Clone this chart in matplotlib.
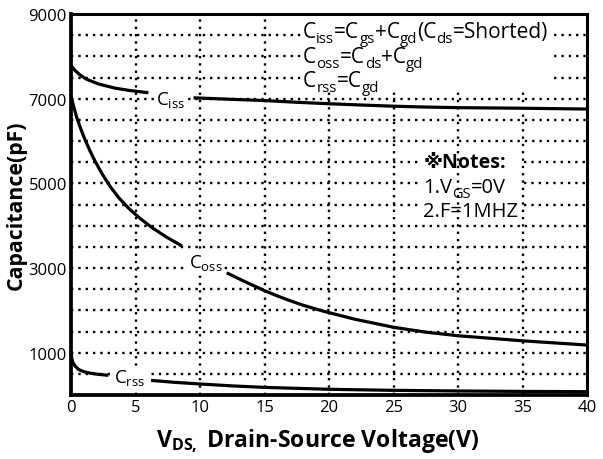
import matplotlib
matplotlib.use("Agg")
import matplotlib.pyplot as plt
from matplotlib.transforms import offset_copy
import numpy as np

plt.rcParams['font.family'] = ['Open Sans', 'DejaVu Sans']
plt.rcParams['mathtext.fontset'] = 'custom'
plt.rcParams['mathtext.rm'] = 'Open Sans'
plt.rcParams['mathtext.it'] = 'Open Sans'
plt.rcParams['mathtext.bf'] = 'Open Sans:bold'

nan = float('nan')
# Data (nan = gap where the curve label sits)
ciss_v = [0, 0.1, 0.3, 0.7, 1.2, 2.1, 3.4, 4.5, 6.0, nan, 9.5, 12, 15, 17.5, 20, 22.5, 25, 27.5, 30, 35, 40]
ciss_c = [7790, 7745, 7670, 7560, 7460, 7350, 7250, 7195, 7140, nan, 7020, 6990, 6955, 6915, 6880, 6850, 6822, 6802, 6788, 6774, 6755]

coss_v = [0, 0.15, 0.44, 0.8, 1.13, 1.5, 1.85, 2.4, 3.0, 3.7, 4.5, 5.4, 6.3, 7.4, 8.6, nan,
          12.07, 13.5, 15, 16, 17, 18, 19.5, 22, 25, 27.5, 30, 35, 40]
coss_c = [7080, 6880, 6560, 6250, 6000, 5750, 5530, 5230, 4940, 4660, 4400, 4160, 3950, 3730, 3520, nan,
          2885, 2675, 2465, 2340, 2225, 2120, 1985, 1790, 1600, 1485, 1400, 1280, 1180]

crss_v = [0, 0.05, 0.15, 0.3, 0.6, 1.0, 1.5, 2.2, 2.9, nan, 6.2, 8, 10, 12.5, 15, 20, 25, 30, 35, 40]
crss_c = [1000, 880, 770, 690, 600, 550, 515, 485, 465, nan, 345, 300, 260, 215, 180, 135, 110, 95, 85, 78]

x_ticks = [0, 5, 10, 15, 20, 25, 30, 35, 40]
y_ticks = [1000, 3000, 5000, 7000, 9000]

W, H = 603, 460
fig = plt.figure(figsize=(W/100, H/100), dpi=100)
ax = fig.add_axes([71/W, 1-396/H, 516/W, 381/H])
ax.set_xlim(0, 40)
ax.set_ylim(0, 9000)
r = fig.canvas.get_renderer()

# dotted grid (horizontal lines behind the notes are interrupted like the reference)
dot = (0, (1, 2.1))
gkw = dict(color='black', lw=1.7, ls=dot, zorder=1)
for gx in x_ticks[1:-1]:
    ax.axvline(gx, **gkw)
for gy in np.arange(500, 9000, 500):
    if gy in (4500, 5000, 5500):
        ax.plot([0, 27.2], [gy, gy], **gkw)
        ax.plot([35.1, 40], [gy, gy], **gkw)
    else:
        ax.axhline(gy, **gkw)

for xs, ys in [(ciss_v, ciss_c), (coss_v, coss_c), (crss_v, crss_c)]:
    ax.plot(xs, ys, color='black', lw=2.3, zorder=3, solid_capstyle='butt')

wb = dict(facecolor='white', edgecolor='none', pad=1.0)
ax.text(7.7, 6875, r'$\mathregular{C_{iss}}$', fontsize=13.5, ha='center', va='baseline', bbox=wb, zorder=5)
ax.text(10.45, 3017, r'$\mathregular{C_{oss}}$', fontsize=13.5, ha='center', va='baseline', bbox=wb, zorder=5)
ax.text(4.57, 300, r'$\mathregular{C_{rss}}$', fontsize=13.5, ha='center', va='baseline', bbox=wb, zorder=5)

# white area hiding grid behind the formula block
ax.add_patch(plt.Rectangle((17.9, 7200), 19.45, 1795, facecolor='white', edgecolor='none', zorder=4))


def rich(x, y, pieces, size, weight='normal'):
    """Draw a sequence of (text, is_subscript) pieces left to right."""
    texts, xoff = [], 0.0
    for s, sub in pieces:
        fs = size * 0.72 if sub else size
        dy = -size * 0.26 if sub else 0.0
        tr = offset_copy(ax.transData, fig=fig, x=xoff, y=dy, units='points')
        t = ax.text(x, y, s, fontsize=fs, fontweight=weight, transform=tr,
                    ha='left', va='baseline', zorder=5)
        texts.append(t)
        xoff += t.get_window_extent(r).width * 72.0 / fig.dpi
    return texts, xoff * fig.dpi / 72.0


def rich_fit(x, y, pieces, target_px, size=13, weight='normal'):
    texts, w = rich(x, y, pieces, size, weight)
    for t in texts:
        t.remove()
    size = size * target_px / w
    rich(x, y, pieces, size, weight)
    return size


line1 = [("C", 0), ("iss", 1), ("=C", 0), ("gs", 1), ("+C", 0), ("gd", 1), ("(C", 0), ("ds", 1), ("=Shorted)", 0)]
line2 = [("C", 0), ("oss", 1), ("=C", 0), ("ds", 1), ("+C", 0), ("gd", 1)]
line3 = [("C", 0), ("rss", 1), ("=C", 0), ("gd", 1)]
fs = rich_fit(18.0, 8457, line1, 245)
rich(18.0, 7867, line2, fs)
rich(18.0, 7300, line3, fs)

rich_fit(27.3, 5386, [("※Notes:", 0)], 82, weight='bold')
nfs = rich_fit(27.3, 4229, [("2.F=1MHZ", 0)], 94)
rich(27.3, 4796, [("1.V", 0), ("GS", 1), ("=0V", 0)], nfs)

ax.set_xticks(x_ticks)
ax.set_xticklabels([str(v) for v in x_ticks], fontsize=12)
ax.set_yticks(y_ticks)
ax.set_yticklabels([str(v) for v in y_ticks], fontsize=12)
ax.tick_params(length=0, pad=3)

for side in ['left', 'bottom']:
    ax.spines[side].set_linewidth(2.7)
for side in ['top', 'right']:
    ax.spines[side].set_linewidth(2.2)
for s in ax.spines.values():
    s.set_zorder(6)

ylab = fig.text(16/W, 1-205/H, 'Capacitance(pF)', fontsize=14, fontweight='bold',
                rotation=90, ha='center', va='center')
xlab = fig.text(318/W, 1-441/H, r'$\mathbf{V_{DS,}}$ Drain-Source Voltage(V)', fontsize=16,
                fontweight='bold', ha='center', va='center')


def fit(t, target, vertical=False):
    bb = t.get_window_extent(r)
    cur = bb.height if vertical else bb.width
    t.set_fontsize(t.get_fontsize() * target / cur)


fit(ylab, 170, vertical=True)
fit(xlab, 323)

fig.savefig('out.png', dpi=100)
